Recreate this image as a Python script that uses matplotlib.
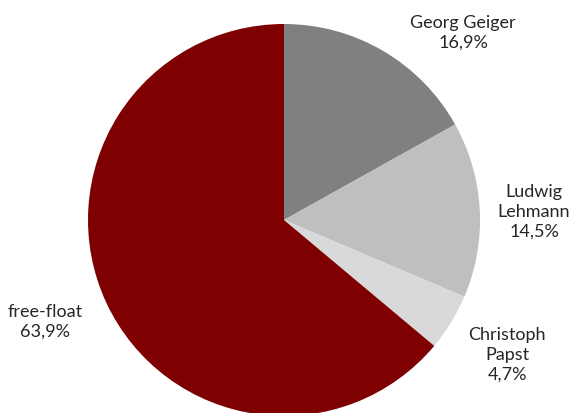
import matplotlib.pyplot as plt

# Shareholder structure
holders = ['Georg Geiger', 'Ludwig\nLehmann', 'Christoph\nPapst', 'free-float']
shares = [16.9, 14.5, 4.7, 63.9]
colors = ['#808080', '#bfbfbf', '#d9d9d9', '#7f0000']

# label anchor points in pixel coordinates (x, y from top)
label_pos = [(463, 33), (534, 212), (507, 355), (45, 322)]

W, H = 576, 414
fig = plt.figure(figsize=(W / 100, H / 100), dpi=100)
ax = fig.add_axes([0, 0, 1, 1])

center = (284, H - 221)
radius = 196
ax.pie(shares, colors=colors, startangle=90, counterclock=False,
       center=center, radius=radius, frame=True,
       wedgeprops=dict(linewidth=0))

for name, val, (x, y) in zip(holders, shares, label_pos):
    txt = name + '\n' + f'{val:.1f}'.replace('.', ',') + '%'
    ax.text(x, H - y, txt, ha='center', va='center', fontsize=13,
            family=['Lato', 'DejaVu Sans'], color='#262626', linespacing=1.3)

ax.set_xlim(0, W)
ax.set_ylim(0, H)
ax.set_aspect('equal')
ax.axis('off')

fig.savefig('out.png', dpi=100)
